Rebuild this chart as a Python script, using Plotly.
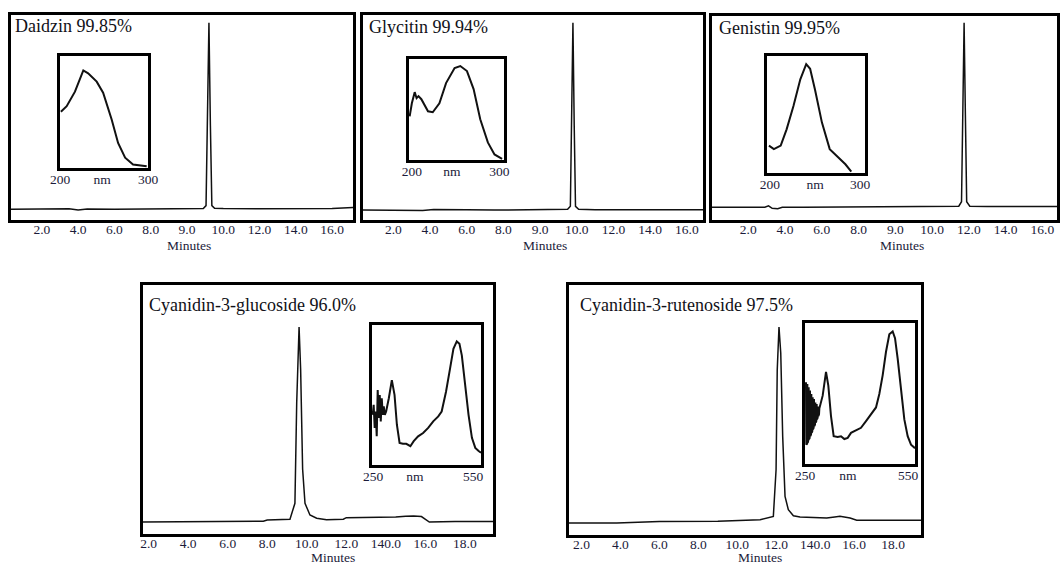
import plotly.graph_objects as go

W, H = 1062, 564

# ---------------- data ----------------
# chromatogram tick labels (as printed in the figure)
top_tick_labels = ["2.0", "4.0", "6.0", "8.0", "9.0", "10.0", "12.0", "14.0", "16.0"]
bottom_tick_labels = ["2.0", "4.0", "6.0", "8.0", "10.0", "12.0", "140.0", "16.0", "18.0"]
tick_positions = [2, 4, 6, 8, 10, 12, 14, 16, 18]

titles = ["Daidzin 99.85%", "Glycitin 99.94%", "Genistin 99.95%",
          "Cyanidin-3-glucoside 96.0%", "Cyanidin-3-rutenoside 97.5%"]

# chromatograms (x in axis units, y normalised response)
daidzin_t = [0.3, 2.0, 3.5, 4.0, 4.5, 6.0, 8.0, 10.0, 10.9, 11.05, 11.13, 11.21, 11.29, 11.37, 11.52, 12.0, 14.0, 16.0, 18.0, 19.15]
daidzin_y = [0.0, 0.0, 0.003, -0.003, 0.002, 0.0, 0.0, 0.002, 0.004, 0.02, 0.45, 1.0, 0.45, 0.02, 0.006, 0.004, 0.003, 0.003, 0.004, 0.01]

glycitin_t = [0.33, 2.0, 3.0, 3.6, 4.2, 5.0, 6.0, 7.5, 9.0, 11.0, 11.5, 11.65, 11.72, 11.79, 11.86, 11.93, 12.1, 13.0, 15.0, 17.0, 18.88]
glycitin_y = [0.0, 0.0, 0.002, -0.002, 0.003, 0.001, 0.002, 0.0, 0.0, 0.001, 0.004, 0.02, 0.45, 1.0, 0.45, 0.02, 0.004, 0.002, 0.002, 0.002, 0.002]

genistin_t = [0.01, 2.0, 2.9, 3.1, 3.3, 3.6, 3.85, 5.0, 7.0, 9.0, 11.0, 13.0, 13.45, 13.6, 13.67, 13.74, 13.81, 13.88, 14.05, 15.0, 17.0, 18.81]
genistin_y = [0.0, 0.0, 0.0, 0.008, -0.006, -0.008, 0.0, 0.0, 0.001, 0.001, 0.002, 0.003, 0.006, 0.03, 0.5, 1.0, 0.5, 0.03, 0.006, 0.004, 0.004, 0.004]

c3g_t = [1.69, 3.5, 5.5, 7.8, 8.0, 9.0, 9.15, 9.4, 9.49, 9.61, 9.69, 9.79, 9.91, 10.16, 10.5, 11.0, 11.85, 12.0, 13.2, 14.5, 15.0, 15.4, 15.8, 16.0, 16.2, 17.5, 18.5, 19.42]
c3g_y = [0.0, 0.002, 0.002, 0.004, 0.01, 0.012, 0.014, 0.096, 0.61, 1.0, 0.78, 0.27, 0.096, 0.036, 0.019, 0.012, 0.014, 0.022, 0.022, 0.025, 0.03, 0.031, 0.028, 0.015, 0.0, 0.002, 0.004, 0.003]

c3r_t = [1.36, 3.81, 6.0, 9.0, 11.17, 11.85, 11.99, 12.05, 12.14, 12.23, 12.33, 12.45, 12.62, 12.88, 13.22, 14.59, 15.0, 15.27, 15.79, 16.13, 17.5, 19.43]
c3r_y = [0.0, 0.0, 0.008, 0.009, 0.017, 0.034, 0.272, 0.782, 1.0, 0.867, 0.442, 0.136, 0.068, 0.037, 0.031, 0.026, 0.031, 0.034, 0.026, 0.014, 0.014, 0.014]

# UV spectra (nm, normalised absorbance)
daidzin_nm = [201, 207.6, 217, 226.5, 232, 241.7, 249, 258.7, 266, 274, 283, 298.5]
daidzin_abs = [0.50, 0.55, 0.68, 0.87, 0.845, 0.77, 0.67, 0.43, 0.22, 0.087, 0.027, 0.01]

glycitin_nm = [200.7, 203, 206, 208, 210, 213, 220, 225, 232, 239, 248, 254, 261, 268, 275, 283, 290, 298]
glycitin_abs = [0.43, 0.56, 0.67, 0.61, 0.63, 0.60, 0.48, 0.47, 0.56, 0.76, 0.91, 0.93, 0.88, 0.70, 0.40, 0.17, 0.05, 0.007]

genistin_nm = [202, 207, 214, 220, 227, 234, 240, 244, 249, 256, 264, 273, 280, 286]
genistin_abs = [0.23, 0.20, 0.23, 0.37, 0.57, 0.80, 0.93, 0.89, 0.71, 0.43, 0.20, 0.13, 0.07, 0.006]

c3g_nm = [251.9, 254.6, 257.4, 260.2, 263.0, 265.7, 268.5, 271.3, 274.1, 276.9, 279.6, 282.4, 285.2, 288.9,
          296.3, 304.6, 312.0, 318.5, 325.9, 335.2, 344.4, 355.6, 364.8, 376.9, 390.7, 404.6, 418.5, 432.4,
          441.7, 453.7, 464.8, 474.1, 483.3, 490.7, 497.2, 506.5, 515.7, 525.0, 534.3, 543.5, 550]
c3g_abs = [0.355, 0.427, 0.261, 0.379, 0.201, 0.533, 0.332, 0.498, 0.308, 0.474, 0.355, 0.415, 0.355, 0.379,
           0.474, 0.604, 0.498, 0.284, 0.154, 0.147, 0.147, 0.130, 0.166, 0.201, 0.225, 0.261, 0.308, 0.344,
           0.379, 0.521, 0.687, 0.829, 0.882, 0.865, 0.782, 0.569, 0.355, 0.190, 0.118, 0.095, 0.083]

c3r_nm = [252.7, 253.6, 254.5, 255.5, 256.4, 257.3, 258.2, 259.1, 260.0, 260.9, 261.8, 262.7, 263.6, 264.5,
          265.5, 266.4, 267.3, 268.2, 269.1, 270.0, 270.9, 271.8, 272.7, 273.6, 274.5, 275.5, 276.4, 277.3,
          278.2, 279.1, 280.0, 280.9, 281.8, 282.7, 283.6, 284.5, 285.5, 286.4, 287.3, 288.2, 289.1,
          298.2, 307.3, 313.6, 320.9, 328.2, 339.1, 348.2, 357.3, 366.4, 375.5, 389.1, 402.7, 416.4, 430.0,
          443.6, 452.7, 461.8, 470.9, 480.0, 489.1, 495.5, 502.7, 511.8, 520.9, 530.0, 539.1, 550]
c3r_abs = [0.578, 0.133, 0.572, 0.139, 0.566, 0.145, 0.554, 0.163, 0.542, 0.172, 0.530, 0.181, 0.518, 0.193,
           0.506, 0.205, 0.494, 0.217, 0.482, 0.229, 0.470, 0.241, 0.464, 0.253, 0.458, 0.265, 0.446, 0.277,
           0.434, 0.289, 0.428, 0.301, 0.422, 0.313, 0.414, 0.325, 0.405, 0.337, 0.398, 0.349, 0.390,
           0.482, 0.651, 0.554, 0.337, 0.193, 0.188, 0.193, 0.173, 0.181, 0.217, 0.236, 0.253, 0.301, 0.349,
           0.398, 0.494, 0.627, 0.795, 0.920, 0.940, 0.892, 0.747, 0.530, 0.313, 0.193, 0.133, 0.108]

# ---------------- layout helpers ----------------
def px_x(v):
    return v / W

def px_y(v):
    return 1 - v / H

SERIF = "Liberation Serif, Times New Roman, serif"
TICK_COLOR = "#1b1b3a"
TEXT_COLOR = "#111118"
LINE_COLOR = "#111111"

panels = [
    dict(box=(11, 353, 15, 220), xr=(0.30, 19.15), yr=(-0.057, 1.041), labels=top_tick_labels, lw=3,
         t=daidzin_t, y=daidzin_y, title=titles[0], tpos=(13, 26), mpos=(189, 245)),
    dict(box=(362.7, 703, 15, 220), xr=(0.33, 18.88), yr=(-0.053, 1.041), labels=top_tick_labels, lw=3,
         t=glycitin_t, y=glycitin_y, title=titles[1], tpos=(367, 27), mpos=(545, 245)),
    dict(box=(711.7, 1057.3, 15.7, 220), xr=(0.01, 18.81), yr=(-0.069, 1.038), labels=top_tick_labels, lw=3,
         t=genistin_t, y=genistin_y, title=titles[2], tpos=(717, 28), mpos=(902, 245)),
    dict(box=(142.5, 493, 285, 533.7), xr=(1.69, 19.42), yr=(-0.06, 1.215), labels=bottom_tick_labels, lw=2.5,
         t=c3g_t, y=c3g_y, title=titles[3], tpos=(147, 305), mpos=(333, 557)),
    dict(box=(569, 921, 285, 535), xr=(1.36, 19.43), yr=(-0.061, 1.214), labels=bottom_tick_labels, lw=2.5,
         t=c3r_t, y=c3r_y, title=titles[4], tpos=(578, 305), mpos=(760, 557)),
]

insets = [
    dict(box=(60, 148, 56, 168), xr=(200, 300), tv=[200, 248, 300], tt=["200", "nm", "300"],
         x=daidzin_nm, y=daidzin_abs),
    dict(box=(409, 504, 59, 160), xr=(200, 300), tv=[203, 245, 295], tt=["200", "nm", "300"],
         x=glycitin_nm, y=glycitin_abs),
    dict(box=(767, 865, 56, 173), xr=(200, 300), tv=[203, 249, 295], tt=["200", "nm", "300"],
         x=genistin_nm, y=genistin_abs),
    dict(box=(372, 481, 325, 465), xr=(250, 550), tv=[253, 368, 528], tt=["250", "nm", "550"],
         x=c3g_nm, y=c3g_abs),
    dict(box=(805, 915, 323, 464), xr=(250, 550), tv=[250, 367, 531], tt=["250", "nm", "550"],
         x=c3r_nm, y=c3r_abs),
]

fig = go.Figure()
layout = dict(
    template="none",
    width=W, height=H,
    margin=dict(l=0, r=0, t=0, b=0, pad=0),
    paper_bgcolor="white", plot_bgcolor="white",
    showlegend=False,
    annotations=[],
)

axis_n = 0
for p in panels:
    axis_n += 1
    sfx = "" if axis_n == 1 else str(axis_n)
    x0, x1, yt, yb = p["box"]
    fig.add_trace(go.Scatter(x=p["t"], y=p["y"], mode="lines",
                             line=dict(color=LINE_COLOR, width=1.5),
                             xaxis="x" + sfx, yaxis="y" + sfx, hoverinfo="skip"))
    layout["xaxis" + sfx] = dict(
        domain=[px_x(x0), px_x(x1)], range=list(p["xr"]), anchor="y" + sfx,
        automargin=False,
        showline=True, mirror=True, linecolor="black", linewidth=p["lw"],
        showgrid=False, zeroline=False, ticks="", ticklabelstandoff=-5,
        tickmode="array", tickvals=tick_positions, ticktext=p["labels"],
        tickfont=dict(family=SERIF, size=13.5, color=TICK_COLOR),
        fixedrange=True,
    )
    layout["yaxis" + sfx] = dict(
        domain=[px_y(yb), px_y(yt)], range=list(p["yr"]), anchor="x" + sfx,
        automargin=False,
        showline=True, mirror=True, linecolor="black", linewidth=p["lw"],
        showgrid=False, zeroline=False, showticklabels=False, ticks="",
        fixedrange=True,
    )
    layout["annotations"].append(dict(
        text=p["title"], x=px_x(p["tpos"][0]), y=px_y(p["tpos"][1]),
        xref="paper", yref="paper", xanchor="left", yanchor="middle", showarrow=False,
        font=dict(family=SERIF, size=18, color=TEXT_COLOR)))
    layout["annotations"].append(dict(
        text="Minutes", x=px_x(p["mpos"][0]), y=px_y(p["mpos"][1]),
        xref="paper", yref="paper", xanchor="center", yanchor="middle", showarrow=False,
        font=dict(family=SERIF, size=13.5, color=TICK_COLOR)))

for ins in insets:
    axis_n += 1
    sfx = str(axis_n)
    x0, x1, yt, yb = ins["box"]
    fig.add_trace(go.Scatter(x=ins["x"], y=ins["y"], mode="lines",
                             line=dict(color=LINE_COLOR, width=2),
                             xaxis="x" + sfx, yaxis="y" + sfx, hoverinfo="skip"))
    layout["xaxis" + sfx] = dict(
        domain=[px_x(x0), px_x(x1)], range=list(ins["xr"]), anchor="y" + sfx,
        automargin=False,
        showline=True, mirror=True, linecolor="black", linewidth=2.5,
        showgrid=False, zeroline=False, ticks="", ticklabelstandoff=-3,
        tickmode="array", tickvals=ins["tv"], ticktext=ins["tt"],
        tickfont=dict(family=SERIF, size=13.5, color=TICK_COLOR),
        fixedrange=True,
    )
    layout["yaxis" + sfx] = dict(
        domain=[px_y(yb), px_y(yt)], range=[-0.005, 1.0], anchor="x" + sfx,
        automargin=False,
        showline=True, mirror=True, linecolor="black", linewidth=2.5,
        showgrid=False, zeroline=False, showticklabels=False, ticks="",
        fixedrange=True,
    )

fig.update_layout(**layout)
fig.write_html(
    "out.html",
    config={"displayModeBar": False},
    post_script="document.body.style.margin='0px';document.body.style.overflow='hidden';",
)
